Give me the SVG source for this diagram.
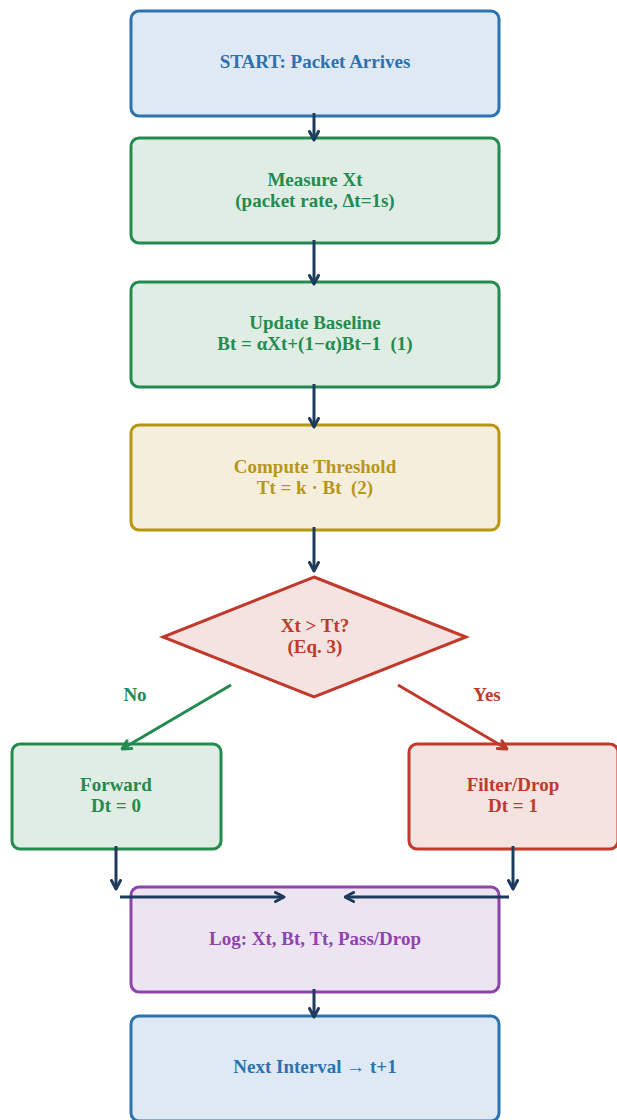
<svg xmlns="http://www.w3.org/2000/svg" width="617" height="1120" viewBox="0 0 617 1120">
  <defs>
    <marker id="headNavy" viewBox="0 0 12 12" refX="10.5" refY="6" markerWidth="12" markerHeight="12" markerUnits="userSpaceOnUse" orient="auto">
      <path d="M2,1.5 L10.5,6 L2,10.5" fill="none" stroke="#1e3a5c" stroke-width="3" stroke-linecap="round" stroke-linejoin="round"/>
    </marker>
    <marker id="headGreen" viewBox="0 0 12 12" refX="10.5" refY="6" markerWidth="12" markerHeight="12" markerUnits="userSpaceOnUse" orient="auto">
      <path d="M2,1.5 L10.5,6 L2,10.5" fill="none" stroke="#238b4f" stroke-width="3" stroke-linecap="round" stroke-linejoin="round"/>
    </marker>
    <marker id="headRed" viewBox="0 0 12 12" refX="10.5" refY="6" markerWidth="12" markerHeight="12" markerUnits="userSpaceOnUse" orient="auto">
      <path d="M2,1.5 L10.5,6 L2,10.5" fill="none" stroke="#c0392b" stroke-width="3" stroke-linecap="round" stroke-linejoin="round"/>
    </marker>
  </defs>
  <style>
    text { font-family: "Liberation Serif", "Times New Roman", serif; font-weight: bold; font-size: 19px; text-anchor: middle; white-space: pre; }
    .box { stroke-width: 3; }
    .blue rect { fill: #dfe9f3; stroke: #2b72b0; }
    .blue text { fill: #2b72b0; }
    .green rect { fill: #e0ede4; stroke: #238b4f; }
    .green text { fill: #238b4f; }
    .gold rect { fill: #f5eedc; stroke: #b8960f; }
    .gold text { fill: #b8961a; }
    .red rect, .red polygon { fill: #f5e3e1; stroke: #c0392b; }
    .red text { fill: #c0392b; }
    .purple rect { fill: #ede4f1; stroke: #8e44ad; }
    .purple text { fill: #8e44ad; }
    .flow { fill: none; stroke: #1e3a5c; stroke-width: 3; marker-end: url(#headNavy); }
  </style>
  <rect width="617" height="1120" fill="#ffffff"/>

  <g id="start" class="blue">
    <rect class="box" x="131" y="11" width="368" height="105" rx="8"/>
    <text x="315" y="68">START: Packet Arrives</text>
  </g>
  <g id="measure" class="green">
    <rect class="box" x="131" y="138" width="368" height="105" rx="8"/>
    <text x="315" y="186">Measure Xt</text>
    <text x="315" y="207">(packet rate, Δt=1s)</text>
  </g>
  <g id="baseline" class="green">
    <rect class="box" x="131" y="282" width="368" height="105" rx="8"/>
    <text x="315" y="329">Update Baseline</text>
    <text x="315" y="350">Bt = αXt+(1−α)Bt−1  (1)</text>
  </g>
  <g id="threshold" class="gold">
    <rect class="box" x="131" y="425" width="368" height="105" rx="8"/>
    <text x="315" y="473">Compute Threshold</text>
    <text x="315" y="494">Tt = k · Bt  (2)</text>
  </g>
  <g id="decision" class="red">
    <polygon class="box" points="314,577 466,637 314,697 163,637"/>
    <text x="315" y="632">Xt &gt; Tt?</text>
    <text x="315" y="653">(Eq. 3)</text>
  </g>
  <g id="forward" class="green">
    <rect class="box" x="12" y="744" width="209" height="105" rx="8"/>
    <text x="116" y="791">Forward</text>
    <text x="116" y="812">Dt = 0</text>
  </g>
  <g id="drop" class="red">
    <rect class="box" x="409" y="744" width="209" height="105" rx="8"/>
    <text x="513" y="791">Filter/Drop</text>
    <text x="513" y="812">Dt = 1</text>
  </g>
  <g id="log" class="purple">
    <rect class="box" x="131" y="887" width="368" height="105" rx="8"/>
    <text x="315" y="945">Log: Xt, Bt, Tt, Pass/Drop</text>
  </g>
  <g id="next" class="blue">
    <rect class="box" x="131" y="1016" width="368" height="105" rx="8"/>
    <text x="315" y="1073">Next Interval → t+1</text>
  </g>

  <g id="connectors">
    <line class="flow" x1="314" y1="113" x2="314" y2="140"/>
    <line class="flow" x1="314" y1="240" x2="314" y2="284"/>
    <line class="flow" x1="314" y1="384" x2="314" y2="427"/>
    <line class="flow" x1="314" y1="527" x2="314" y2="571"/>
    <line x1="231" y1="685" x2="122" y2="749" stroke="#238b4f" stroke-width="3" marker-end="url(#headGreen)"/>
    <line x1="398" y1="685" x2="507" y2="749" stroke="#c0392b" stroke-width="3" marker-end="url(#headRed)"/>
    <line class="flow" x1="116" y1="846" x2="116" y2="889"/>
    <line class="flow" x1="513" y1="846" x2="513" y2="889"/>
    <line class="flow" x1="120" y1="897" x2="284" y2="897"/>
    <line class="flow" x1="509" y1="897" x2="345" y2="897"/>
    <line class="flow" x1="314" y1="989" x2="314" y2="1017"/>
  </g>
  <g id="labels">
    <text x="135" y="701" fill="#238b4f">No</text>
    <text x="487" y="701" fill="#c0392b">Yes</text>
  </g>
</svg>
